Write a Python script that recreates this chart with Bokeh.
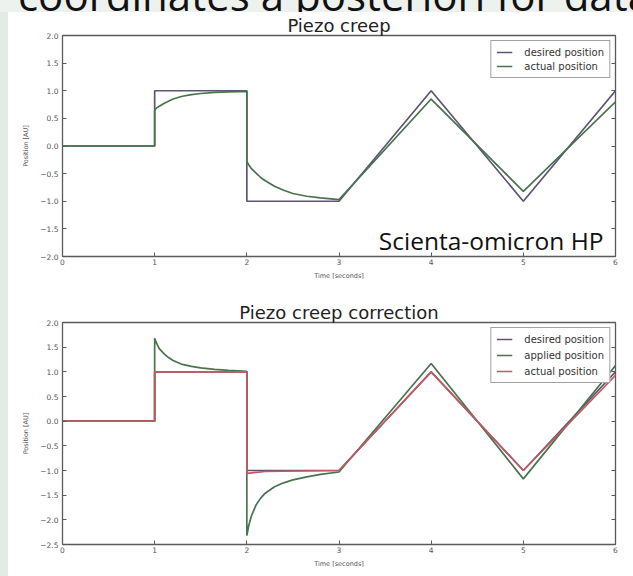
from bokeh.plotting import figure
from bokeh.models import Div, Label, LinearAxis, Legend, LegendItem, FixedTicker, Range1d
from bokeh.layouts import column, row
from bokeh.embed import file_html
from bokeh.resources import INLINE

# ---- data -------------------------------------------------------------
# desired trajectory: two steps followed by a triangle wave
desired_t = [0, 1, 1, 2, 2, 3, 4, 5, 6]
desired_y = [0, 0, 1, 1, -1, -1, 1, -1, 1]

# uncorrected piezo response (creep after each step, lag on the ramps)
actual_t = [0, 1, 1, 1.02, 1.05, 1.1, 1.15, 1.2, 1.3, 1.4, 1.5, 1.65, 1.8, 2.0,
            2.0, 2.02, 2.05, 2.1, 2.15, 2.2, 2.3, 2.4, 2.5, 2.65, 2.8, 3.0, 4.0, 5.0, 6.0]
actual_y = [0, 0, 0.64, 0.69, 0.72, 0.77, 0.81, 0.85, 0.90, 0.93, 0.95, 0.97, 0.98, 0.99,
            -0.28, -0.34, -0.41, -0.49, -0.57, -0.63, -0.73, -0.80, -0.86, -0.91, -0.94, -0.97,
            0.85, -0.82, 0.80]

# pre-compensated drive signal
applied_t = [0, 1, 1, 1.02, 1.05, 1.1, 1.15, 1.2, 1.3, 1.4, 1.5, 1.65, 1.8, 2.0,
             2.0, 2.02, 2.05, 2.1, 2.15, 2.2, 2.3, 2.4, 2.5, 2.65, 2.8, 3.0, 4.0, 5.0, 6.0]
applied_y = [0, 0, 1.68, 1.58, 1.47, 1.37, 1.29, 1.23, 1.15, 1.11, 1.08, 1.05, 1.03, 1.01,
             -2.32, -2.12, -1.92, -1.70, -1.56, -1.46, -1.33, -1.25, -1.19, -1.13, -1.08, -1.03,
             1.17, -1.17, 1.13]

# resulting position with correction
corrected_t = [0, 1, 1, 2, 2, 2.05, 2.2, 3, 4, 5, 6]
corrected_y = [0, 0, 1, 1, -1.06, -1.05, -1.02, -1.0, 1.0, -1.0, 0.93]

x_ticks = [0, 1, 2, 3, 4, 5, 6]
y_ticks_top = [-2.0, -1.5, -1.0, -0.5, 0.0, 0.5, 1.0, 1.5, 2.0]
y_ticks_bottom = [-2.5, -2.0, -1.5, -1.0, -0.5, 0.0, 0.5, 1.0, 1.5, 2.0]

PURPLE = "#5f5376"
GREEN = "#48744d"
RED = "#c25a64"
AXIS = "#5a5a5a"
TICK_FONT = "DejaVu Sans"


def fmt(v):
    return f"{v:.1f}".replace("-", "\u2212")


def make_panel(height, border_top, y_ticks, title_text):
    p = figure(width=625, height=height, output_backend="svg", toolbar_location=None,
               x_range=Range1d(0, 6), y_range=Range1d(y_ticks[0], y_ticks[-1]),
               min_border_left=54, min_border_right=18, min_border_top=border_top,
               min_border_bottom=32, background_fill_color="white",
               border_fill_color="white", outline_line_color=AXIS, outline_line_width=1.3,
               title=title_text)
    p.grid.visible = False
    p.margin = 0

    p.title.align = "center"
    p.title.text_font = "DejaVu Sans"
    p.title.text_font_size = "18px"
    p.title.text_font_style = "normal"
    p.title.text_color = "#222222"
    p.title.standoff = 0
    p.title.offset = 0

    for ax in (p.xaxis[0], p.yaxis[0]):
        ax.axis_line_color = AXIS
        ax.major_tick_in = 4
        ax.major_tick_out = 0
        ax.minor_tick_line_color = None
        ax.major_tick_line_color = AXIS
        ax.major_label_text_font = TICK_FONT
        ax.major_label_text_font_size = "7.5px"
        ax.major_label_text_color = "#555555"
        ax.axis_label_text_font = TICK_FONT
        ax.axis_label_text_font_size = "6.5px"
        ax.axis_label_text_font_style = "normal"
        ax.axis_label_text_color = "#555555"

    p.xaxis.ticker = FixedTicker(ticks=x_ticks)
    p.xaxis.major_label_standoff = 2
    p.xaxis.axis_label = "Time [seconds]"
    p.xaxis.axis_label_standoff = 4

    p.yaxis.ticker = FixedTicker(ticks=y_ticks)
    p.yaxis.major_label_overrides = {v: fmt(v) for v in y_ticks}
    p.yaxis.major_label_standoff = 4
    p.yaxis.axis_label = "Position [AU]"
    p.yaxis.axis_label_standoff = 7

    # inward ticks on the right edge as well (no labels there)
    right_ax = LinearAxis(ticker=FixedTicker(ticks=y_ticks), major_tick_in=4, major_tick_out=0,
                          major_tick_line_color=AXIS, minor_tick_line_color=None,
                          axis_line_color=None, major_label_standoff=0,
                          major_label_overrides={v: "" for v in y_ticks})
    p.add_layout(right_ax, "right")
    return p


def style_legend(legend, spacing):
    legend.location = "top_right"
    legend.margin = 5
    legend.padding = 5
    legend.spacing = spacing
    legend.glyph_width = 16
    legend.glyph_height = 12
    legend.label_height = 12
    legend.label_standoff = 12
    legend.label_text_font = "DejaVu Sans"
    legend.label_text_font_size = "10px"
    legend.label_text_color = "#333333"
    legend.border_line_color = "#444444"
    legend.border_line_width = 1
    legend.background_fill_color = "white"
    legend.background_fill_alpha = 1


# ---- upper panel: uncorrected creep ----------------------------------
p1 = make_panel(276, 23, y_ticks_top, "Piezo creep")
r_des1 = p1.line(desired_t, desired_y, line_color=PURPLE, line_width=1.7)
r_act1 = p1.line(actual_t, actual_y, line_color=GREEN, line_width=1.7)
leg1 = Legend(items=[LegendItem(label="desired position", renderers=[r_des1]),
                     LegendItem(label="actual position", renderers=[r_act1])])
style_legend(leg1, 2)
p1.add_layout(leg1, "center")
p1.add_layout(Label(x=5.87, y=-1.71, text="Scienta-omicron HP", text_align="right",
                    text_baseline="alphabetic", text_font="Open Sans",
                    text_font_size="24.5px", text_color="#111111"))

# ---- lower panel: creep correction -----------------------------------
p2 = make_panel(288, 34, y_ticks_bottom, "Piezo creep correction")
r_des2 = p2.line(desired_t, desired_y, line_color=PURPLE, line_width=1.7)
r_app2 = p2.line(applied_t, applied_y, line_color=GREEN, line_width=1.7)
r_cor2 = p2.line(corrected_t, corrected_y, line_color=RED, line_width=1.7)
leg2 = Legend(items=[LegendItem(label="desired position", renderers=[r_des2]),
                     LegendItem(label="applied position", renderers=[r_app2]),
                     LegendItem(label="actual position", renderers=[r_cor2])])
style_legend(leg2, 4)
p2.add_layout(leg2, "center")

# ---- slide surroundings ----------------------------------------------
heading = Div(
    text=('<div style="position:relative; top:-27px; left:18px; white-space:nowrap;'
          ' font-family:\'Open Sans\'; font-size:42px; line-height:44px; color:#111;">'
          'coordinates a posteriori for data</div>'),
    width=633, height=12, margin=0,
    styles={"overflow": "hidden", "background-color": "#eef2ee"})
side = Div(text="", width=8, height=564, margin=0,
           styles={"background-color": "#e3ebe4"})

layout = column(heading, row(side, column(p1, p2, spacing=0), spacing=0), spacing=0)

open("out.html", "w").write(file_html(layout, INLINE))
